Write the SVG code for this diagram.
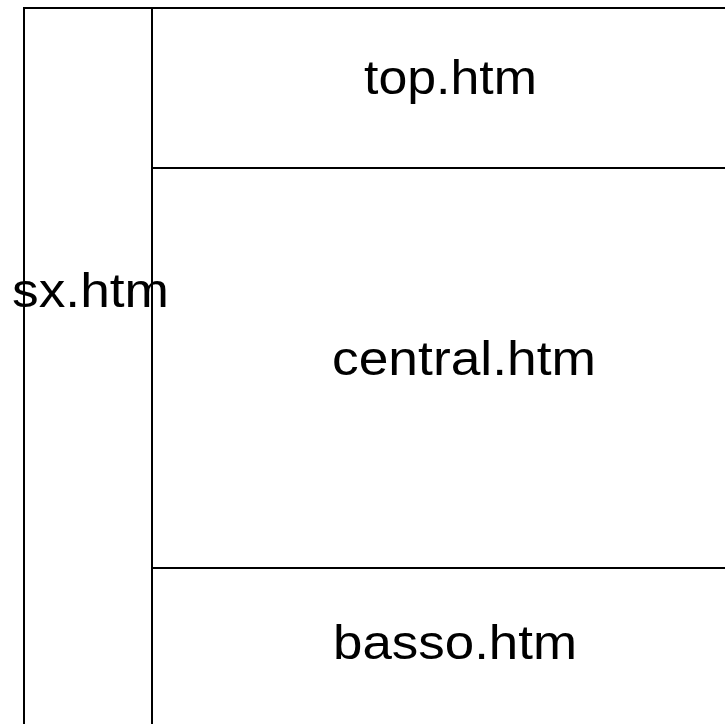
<svg xmlns="http://www.w3.org/2000/svg" width="725" height="724" viewBox="0 0 725 724">
<style>
.ln{stroke:#000;stroke-width:2;fill:none}
.t{font-family:"Liberation Sans",Arial,sans-serif;font-size:49px;fill:#000}
</style>
<rect width="725" height="724" fill="#fff"/>
<g id="frames">
<path class="ln" d="M24,724 V8 H725"/>
<path class="ln" d="M152,8 V724"/>
<path class="ln" d="M152,168 H725"/>
<path class="ln" d="M152,568 H725"/>
</g>
<g id="sx"><text class="t" x="12" y="307" textLength="157" lengthAdjust="spacingAndGlyphs">sx.htm</text></g>
<g id="top"><text class="t" x="364" y="94" textLength="173" lengthAdjust="spacingAndGlyphs">top.htm</text></g>
<g id="central"><text class="t" x="332" y="375" textLength="264" lengthAdjust="spacingAndGlyphs">central.htm</text></g>
<g id="basso"><text class="t" x="333" y="659" textLength="244" lengthAdjust="spacingAndGlyphs">basso.htm</text></g>
</svg>
